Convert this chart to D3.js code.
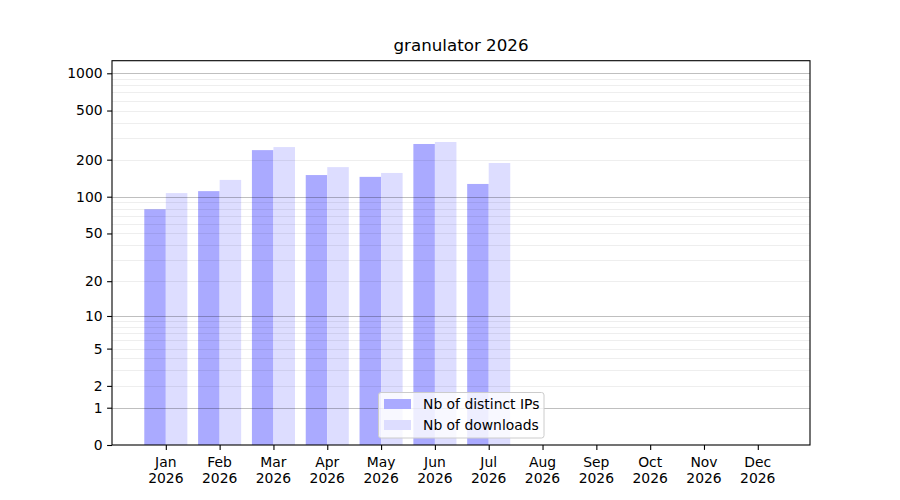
<!DOCTYPE html>
<html><head><meta charset="utf-8">
<script src="https://cdn.jsdelivr.net/npm/d3@7"></script>
<style>body{margin:0;background:#fff}svg{font-family:"DejaVu Sans",sans-serif}</style>
</head><body><svg id="c" width="900" height="500"></svg>
<script>
const title = "granulator 2026";
const months = ["Jan","Feb","Mar","Apr","May","Jun","Jul","Aug","Sep","Oct","Nov","Dec"];
const year = "2026";
const distinctIPs = [79, 111, 239, 150, 145, 268, 127];
const downloads = [107, 137, 253, 174, 156, 278, 188];
const seriesNames = ["Nb of distinct IPs", "Nb of downloads"];
const seriesColors = ["#aaaaff", "#ddddff"];
const yTicks = [0, 1, 2, 5, 10, 20, 50, 100, 200, 500, 1000];
const yMajor = [1, 10, 100, 1000];
const yMinor = [2,3,4,5,6,7,8,9,20,30,40,50,60,70,80,90,200,300,400,500,600,700,800,900];

const svg = d3.select("#c");
const L = 112, R = 810, T = 60.7, B = 445;
const x = d3.scaleLinear().domain([-1, 11.97]).range([L, R]);
const y = d3.scaleSymlog().constant(1).domain([0, 1264]).range([B, T]);
const bw = x(0.4) - x(0);

svg.append("text").attr("x", (L+R)/2).attr("y", 51).attr("text-anchor","middle")
  .attr("font-size", 16.7).attr("fill","#000").text(title);

const g = svg.append("g");
// bars
g.selectAll(".b1").data(distinctIPs).join("rect")
  .attr("x",(d,i)=>x(i)-bw).attr("width",bw)
  .attr("y",d=>y(d)).attr("height",d=>B-y(d)).attr("fill",seriesColors[0]);
g.selectAll(".b2").data(downloads).join("rect")
  .attr("x",(d,i)=>x(i)).attr("width",bw)
  .attr("y",d=>y(d)).attr("height",d=>B-y(d)).attr("fill",seriesColors[1]);

// grid
g.selectAll(".gm").data(yMinor).join("line")
  .attr("x1",L).attr("x2",R).attr("y1",d=>Math.round(y(d))+0.5).attr("y2",d=>Math.round(y(d))+0.5)
  .attr("stroke","#000").attr("stroke-opacity",0.065).attr("stroke-width",1);
g.selectAll(".gM").data(yMajor).join("line")
  .attr("x1",L).attr("x2",R).attr("y1",d=>Math.round(y(d))+0.5).attr("y2",d=>Math.round(y(d))+0.5)
  .attr("stroke","#000").attr("stroke-opacity",0.25).attr("stroke-width",1);

// frame
svg.append("rect").attr("x",L).attr("y",T).attr("width",R-L).attr("height",B-T)
  .attr("fill","none").attr("stroke","#000").attr("stroke-width",1.1);

// y axis
const ya = svg.append("g").attr("transform",`translate(${L},0)`)
  .call(d3.axisLeft(y).tickValues(yTicks).tickFormat(d3.format("d")).tickSize(4.9).tickPadding(4.5));
ya.select(".domain").remove();
ya.selectAll("text").attr("font-size",13.9).attr("fill","#000").attr("font-family","DejaVu Sans");
ya.selectAll("line").attr("stroke","#000").attr("stroke-width",1.1);

// x axis
const xa = svg.append("g").attr("transform",`translate(0,${B})`)
  .call(d3.axisBottom(x).tickValues(d3.range(12)).tickFormat(()=> "").tickSize(4.9));
xa.select(".domain").remove();
xa.selectAll("line").attr("stroke","#000").attr("stroke-width",1.1);
const xl = svg.append("g");
months.forEach((m,i)=>{
  const t = xl.append("text").attr("x",x(i)).attr("text-anchor","middle").attr("font-size",13.9).attr("fill","#000");
  t.append("tspan").attr("x",x(i)).attr("y",467).text(m);
  t.append("tspan").attr("x",x(i)).attr("y",483).text(year);
});

// legend
const lg = svg.append("g");
lg.append("rect").attr("x",378.5).attr("y",392.5).attr("width",165.5).attr("height",45.5).attr("rx",2.5)
  .attr("fill","#fff").attr("fill-opacity",0.8).attr("stroke","#cccccc").attr("stroke-width",1);
seriesNames.forEach((n,i)=>{
  lg.append("rect").attr("x",384).attr("y",399+i*21).attr("width",27).attr("height",10).attr("fill",seriesColors[i]);
  lg.append("text").attr("x",423).attr("y",409+i*21).attr("font-size",13.9).attr("fill","#000").text(n);
});
</script></body></html>
